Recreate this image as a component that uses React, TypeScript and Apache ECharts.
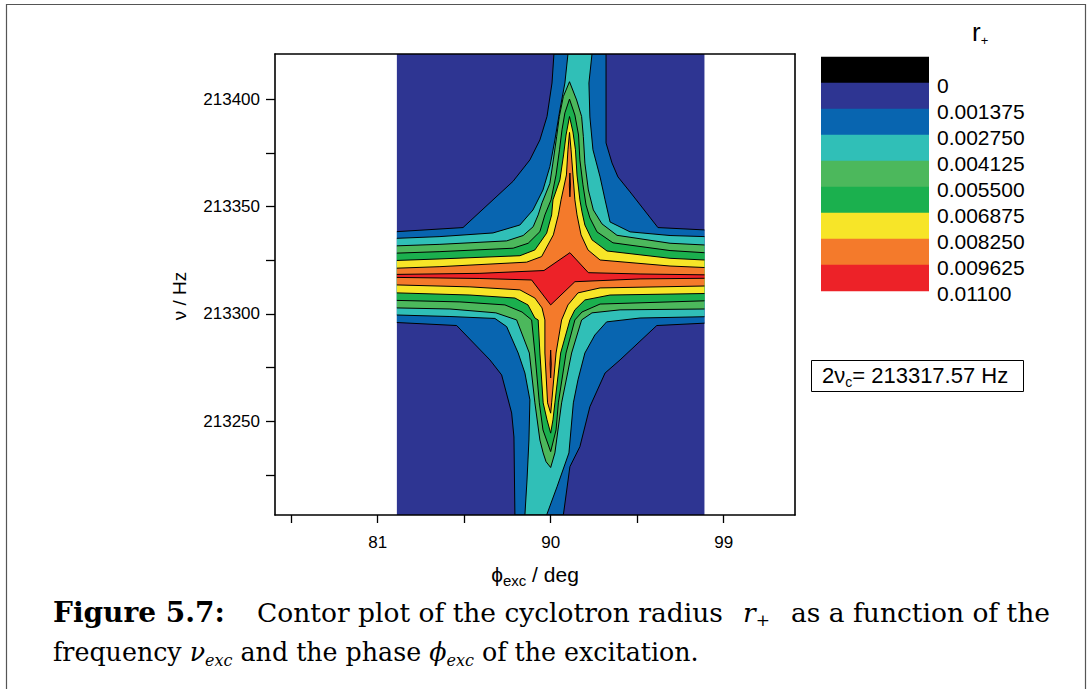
import React, { useEffect, useRef } from "react";
import * as echarts from "echarts";

type P = [number, number];

// Legend levels (r+) and fill colours (below 0, 0..., ..., above 0.009625)
const levelLabels = ["0", "0.001375", "0.002750", "0.004125", "0.005500", "0.006875", "0.008250", "0.009625", "0.01100"];
const levelColors = ["#000000", "#2e3592", "#0865b0", "#30bfb7", "#4cb85c", "#1bb04e", "#f7e528", "#f47a2b", "#ed2228"];

// Axes
const phiMin = 75.66;
const phiMax = 102.71;
const nuMin = 213206.4;
const nuMax = 213421.0;
const xTickValues = [76.5, 81, 85.5, 90, 94.5, 99];
const xLabelValues = [81, 90, 99];
const yTickValues = [213225, 213250, 213275, 213300, 213325, 213350, 213375, 213400];
const yLabelValues = [213250, 213300, 213350, 213400];

// Data domain
const dataRect: P[] = [[82, nuMin], [98, nuMin], [98, nuMax], [82, nuMax]];

// Contour boundaries [phi (deg), nu (Hz)]: upper = left edge -> right edge, lower = right edge -> left edge
const c1Upper: P[] = [[82, 213338.3], [85.44, 213340.2], [88.04, 213361.7], [88.92, 213371.7], [89.44, 213381.0], [89.81, 213391.9], [90.07, 213407.5], [90.17, 213421.0], [92.88, 213421.0], [92.88, 213379.6], [93.19, 213370.3], [93.5, 213363.8], [94.13, 213356.8], [95.58, 213340.2], [98, 213339.1]];
const c1Lower: P[] = [[98, 213295.7], [95.52, 213294.6], [93.61, 213278.6], [92.83, 213272.5], [92.04, 213256.8], [91.52, 213238.2], [91.0, 213228.9], [90.66, 213206.4], [88.14, 213206.4], [88.09, 213242.7], [87.97, 213253.9], [87.45, 213271.6], [86.84, 213278.6], [85.11, 213294.6], [82, 213296.0]];

const c2Upper: P[] = [[82, 213335.2], [84.24, 213336.0], [87.0, 213337.7], [88.4, 213341.4], [89.08, 213348.4], [89.6, 213357.7], [89.96, 213368.6], [90.22, 213381.0], [90.48, 213395.0], [90.74, 213407.5], [90.9, 213421.0], [92.15, 213421.0], [91.99, 213407.5], [92.04, 213391.7], [92.2, 213376.4], [92.57, 213363.8], [92.83, 213353.1], [93.09, 213342.8], [94.13, 213338.2], [96.21, 213336.5], [98, 213336.0]];
const c2Lower: P[] = [[98, 213298.7], [94.65, 213298.1], [92.91, 213296.3], [92.3, 213290.2], [91.78, 213281.8], [91.42, 213269.3], [91.18, 213258.6], [90.95, 213235.3], [90.33, 213219.5], [89.79, 213206.4], [88.66, 213206.4], [88.77, 213222.7], [88.87, 213241.3], [88.92, 213260.0], [88.66, 213272.5], [88.31, 213281.8], [87.71, 213294.1], [87.1, 213297.9], [84.76, 213298.8], [82, 213299.5]];

const c3Upper: P[] = [[82, 213331.7], [84.24, 213332.4], [87.71, 213334.0], [88.57, 213336.5], [89.09, 213340.6], [89.35, 213346.1], [89.55, 213351.7], [89.96, 213360.8], [90.14, 213371.7], [90.31, 213382.5], [90.45, 213391.9], [90.66, 213401.2], [90.98, 213408.1], [91.35, 213399.6], [91.61, 213391.9], [91.7, 213382.5], [91.78, 213370.2], [91.96, 213357.7], [92.22, 213348.4], [92.67, 213341.9], [93.45, 213336.6], [96.21, 213332.9], [98, 213332.1]];
const c3Lower: P[] = [[98, 213302.3], [93.61, 213301.9], [92.15, 213300.5], [91.61, 213297.2], [91.09, 213281.8], [90.57, 213258.6], [90.22, 213235.3], [90.0, 213228.5], [89.76, 213231.2], [89.61, 213235.3], [89.44, 213241.3], [89.18, 213258.6], [88.89, 213281.8], [88.23, 213297.2], [87.15, 213300.5], [84.76, 213302.3], [82, 213302.8]];

const c4Upper: P[] = [[82, 213328.3], [84.24, 213329.0], [88.05, 213330.6], [88.83, 213332.9], [89.44, 213338.3], [89.7, 213346.1], [90.02, 213353.1], [90.28, 213364.7], [90.46, 213376.4], [90.59, 213385.7], [90.74, 213393.6], [90.98, 213400.0], [91.26, 213392.6], [91.45, 213383.3], [91.52, 213371.7], [91.68, 213360.1], [91.84, 213350.7], [92.04, 213344.7], [92.41, 213338.2], [93.24, 213333.1], [96.21, 213329.5], [98, 213328.5]];
const c4Lower: P[] = [[98, 213306.1], [92.57, 213304.6], [91.63, 213300.9], [91.26, 213297.2], [90.8, 213281.8], [90.4, 213258.6], [90.28, 213246.0], [90.0, 213235.9], [89.6, 213246.0], [89.41, 213258.6], [89.18, 213281.8], [89.01, 213297.2], [88.51, 213300.9], [87.62, 213304.2], [85.28, 213305.6], [82, 213306.3]];

const c5Upper: P[] = [[82, 213324.9], [84.24, 213325.6], [88.4, 213327.1], [89.18, 213329.8], [89.79, 213337.6], [90.05, 213346.1], [90.12, 213353.1], [90.48, 213362.4], [90.67, 213374.0], [90.8, 213383.3], [90.98, 213391.9], [91.16, 213384.7], [91.29, 213376.4], [91.37, 213364.7], [91.52, 213353.1], [91.63, 213347.5], [91.78, 213341.4], [92.15, 213334.5], [92.93, 213329.3], [96.21, 213325.9], [98, 213325.1]];
const c5Lower: P[] = [[98, 213309.5], [93.09, 213308.8], [91.78, 213306.5], [91.26, 213301.9], [91.0, 213297.2], [90.52, 213281.8], [90.22, 213258.6], [90.12, 213250.7], [90.0, 213244.5], [89.81, 213250.7], [89.61, 213258.6], [89.44, 213281.8], [89.35, 213297.2], [89.18, 213298.1], [88.82, 213304.2], [88.14, 213307.4], [85.8, 213308.8], [82, 213309.8]];

const c6Upper: P[] = [[82, 213321.3], [84.24, 213322.0], [88.75, 213324.1], [89.53, 213326.7], [90.14, 213336.8], [90.4, 213346.1], [90.54, 213353.1], [90.82, 213364.7], [90.9, 213376.4], [90.98, 213384.5], [91.06, 213376.4], [91.16, 213364.7], [91.26, 213353.1], [91.37, 213346.1], [91.58, 213336.8], [91.94, 213329.8], [92.57, 213325.1], [96.21, 213322.3], [98, 213321.6]];
const c6Lower: P[] = [[98, 213313.0], [92.57, 213312.1], [91.42, 213309.8], [90.9, 213304.2], [90.57, 213297.2], [90.28, 213281.8], [90.05, 213258.6], [90.0, 213253.8], [89.84, 213258.6], [89.7, 213281.8], [89.7, 213297.2], [89.55, 213302.8], [89.18, 213307.4], [88.4, 213311.2], [85.8, 213312.6], [82, 213313.5]];

const c7Upper: P[] = [[82, 213318.4], [86.32, 213318.9], [89.65, 213320.2], [91.0, 213328.5], [91.96, 213319.2], [94.65, 213318.6], [98, 213318.2]];
const c7Lower: P[] = [[98, 213316.6], [94.65, 213316.3], [91.26, 213315.0], [90.0, 213304.2], [89.01, 213315.8], [86.32, 213316.5], [82, 213317.0]];

const islandTop: P[] = [[91.0, 213365.6], [91.03, 213360.0], [91.0, 213354.5], [90.97, 213360.0]];
const islandBottom: P[] = [[90.0, 213283.2], [90.03, 213276.7], [90.0, 213270.2], [89.97, 213276.7]];

type Region = { color: string; upper: P[]; lower: P[]; stroke: boolean; closed?: boolean };
const regions: Region[] = [
  { color: levelColors[1], upper: dataRect, lower: [], stroke: false },
  { color: levelColors[2], upper: c1Upper, lower: c1Lower, stroke: true },
  { color: levelColors[3], upper: c2Upper, lower: c2Lower, stroke: true },
  { color: levelColors[4], upper: c3Upper, lower: c3Lower, stroke: true },
  { color: levelColors[5], upper: c4Upper, lower: c4Lower, stroke: true },
  { color: levelColors[6], upper: c5Upper, lower: c5Lower, stroke: true },
  { color: levelColors[7], upper: c6Upper, lower: c6Lower, stroke: true },
  { color: levelColors[8], upper: c7Upper, lower: c7Lower, stroke: true },
  { color: levelColors[8], upper: islandTop, lower: [], stroke: true, closed: true },
  { color: levelColors[8], upper: islandBottom, lower: [], stroke: true, closed: true },
];

const SANS = "'Liberation Sans', Arial, Helvetica, sans-serif";
const SERIF = "'DejaVu Serif', serif";

function buildOption(): any {
  const legendX = 821;
  const legendTop = 56.7;
  const boxH = 26;
  const legendGraphics: any[] = [];
  levelColors.forEach((c, i) => {
    legendGraphics.push({
      type: "rect",
      shape: { x: legendX, y: legendTop + boxH * i, width: 108, height: boxH + 0.5 },
      style: { fill: c },
    });
  });
  levelLabels.forEach((t, i) => {
    legendGraphics.push({
      type: "text",
      x: 937,
      y: legendTop + boxH * (i + 1) + 3,
      style: { text: t, font: `21px ${SANS}`, fill: "#000", verticalAlign: "middle", align: "left" },
    });
  });

  const subRich = (size: number) => ({
    fontSize: size,
    fontFamily: SANS,
    color: "#000",
    verticalAlign: "bottom",
    lineHeight: size,
  });
  const makeSerifRich = (size: number, sub: number) => ({
    a: { fontSize: size, fontFamily: SERIF, color: "#000", lineHeight: 32 },
    i: { fontSize: size, fontFamily: SERIF, fontStyle: "italic", color: "#000", lineHeight: 32 },
    s: { fontSize: sub, fontFamily: SERIF, fontStyle: "italic", color: "#000", verticalAlign: "bottom", lineHeight: 18 },
    p: { fontSize: sub, fontFamily: SERIF, color: "#000", verticalAlign: "bottom", lineHeight: 18 },
  });
  const rich1 = makeSerifRich(26.5, 17);
  const rich2 = makeSerifRich(25.3, 16);
  const capText = (x: number, y: number, text: string, rich: any, align = "left") => ({
    type: "text",
    x,
    y,
    style: { text, align, verticalAlign: "middle", rich },
  });

  const graphics: any[] = [
    ...legendGraphics,
    // r+ title
    {
      type: "text",
      x: 972,
      y: 32,
      style: {
        text: "{a|r}{s|+}",
        verticalAlign: "middle",
        rich: {
          a: { fontSize: 26, fontFamily: SANS, color: "#000", lineHeight: 30 },
          s: subRich(13),
        },
      },
    },
    // annotation box
    {
      type: "rect",
      shape: { x: 811.5, y: 360.5, width: 212, height: 31 },
      style: { fill: "#fff", stroke: "#000", lineWidth: 1 },
    },
    {
      type: "text",
      x: 822,
      y: 375,
      style: {
        text: "{a|2ν}{s|c}{a|= 213317.57 Hz}",
        verticalAlign: "middle",
        rich: {
          a: { fontSize: 22, fontFamily: SANS, color: "#000", lineHeight: 28 },
          s: subRich(14),
        },
      },
    },
    // y axis name
    {
      type: "text",
      x: 179,
      y: 296,
      rotation: Math.PI / 2,
      style: {
        text: "ν / Hz",
        font: `19px ${SANS}`,
        fill: "#000",
        align: "center",
        verticalAlign: "middle",
      },
    },
    // page frame
    {
      type: "polyline",
      shape: { points: [[6.5, 689], [6.5, 4.5], [1085.5, 4.5], [1085.5, 689]] },
      style: { stroke: "#555", lineWidth: 1.2, fill: "none" },
    },
    // caption
    {
      type: "text",
      x: 53,
      y: 612,
      style: { text: "Figure 5.7:", font: `bold 28px ${SERIF}`, fill: "#000", verticalAlign: "middle" },
    },
    capText(257, 612, "{a|Contor plot of the cyclotron radius}", rich1),
    capText(743, 612, "{i|r}{p|+}", rich1),
    capText(1050, 612, "{a|as a function of the}", rich1, "right"),
    capText(53, 652, "{a|frequency }{i|ν}{s|exc}{a| and the phase }{i|ϕ}{s|exc}{a| of the excitation.}", rich2),
  ];

  const axisLine = { show: true, onZero: false, lineStyle: { color: "#000", width: 1.6 } };

  return {
    animation: false,
    backgroundColor: "#fff",
    textStyle: { fontFamily: SANS },
    grid: { left: 275, right: 294, top: 54, bottom: 174, containLabel: false, outerBoundsMode: "none" },
    xAxis: [
      {
        type: "value",
        min: phiMin,
        max: phiMax,
        position: "bottom",
        z: 10,
        axisLine,
        axisTick: { show: true, inside: false, length: 8, customValues: xTickValues, lineStyle: { color: "#000", width: 1.3 } },
        axisLabel: {
          show: true,
          customValues: xLabelValues,
          margin: 19,
          color: "#000",
          fontSize: 17,
          fontFamily: SANS,
          formatter: (v: number) => String(v),
        },
        splitLine: { show: false },
        name: "{a|ϕ}{s|exc}{a| / deg}",
        nameLocation: "middle",
        nameGap: 46,
        nameTextStyle: {
          rich: {
            a: { fontSize: 21, fontFamily: SANS, color: "#000", lineHeight: 27 },
            s: subRich(15),
          },
        },
      },
      {
        type: "value",
        min: phiMin,
        max: phiMax,
        position: "top",
        z: 10,
        axisLine,
        axisTick: { show: false },
        axisLabel: { show: false },
        splitLine: { show: false },
      },
    ],
    yAxis: [
      {
        type: "value",
        min: nuMin,
        max: nuMax,
        position: "left",
        z: 10,
        axisLine,
        axisTick: { show: true, inside: false, length: 9, customValues: yTickValues, lineStyle: { color: "#000", width: 1.3 } },
        axisLabel: {
          show: true,
          customValues: yLabelValues,
          margin: 15,
          color: "#000",
          fontSize: 17,
          fontFamily: SANS,
          formatter: (v: number) => String(v),
        },
        splitLine: { show: false },
      },
      {
        type: "value",
        min: nuMin,
        max: nuMax,
        position: "right",
        z: 10,
        axisLine,
        axisTick: { show: false },
        axisLabel: { show: false },
        splitLine: { show: false },
      },
    ],
    series: [
      {
        type: "custom",
        xAxisIndex: 0,
        yAxisIndex: 0,
        clip: true,
        silent: true,
        encode: { x: 0, y: 1 },
        data: regions.map((_, i) => [90, 213300, i]),
        renderItem: (params: any, api: any) => {
          const r = regions[params.dataIndex];
          const px = (pts: P[]) => pts.map((p) => api.coord(p));
          const children: any[] = [
            {
              type: "polygon",
              shape: { points: px(r.upper.concat(r.lower)) },
              style: { fill: r.color, stroke: r.closed ? "#000" : null, lineWidth: r.closed ? 1 : 0 },
            },
          ];
          if (r.stroke && !r.closed) {
            children.push({
              type: "polyline",
              shape: { points: px(r.upper) },
              style: { fill: null, stroke: "#000", lineWidth: 1 },
            });
            children.push({
              type: "polyline",
              shape: { points: px(r.lower) },
              style: { fill: null, stroke: "#000", lineWidth: 1 },
            });
          }
          return { type: "group", children };
        },
      },
    ],
    graphic: graphics,
  };
}

export default function App() {
  const ref = useRef<HTMLDivElement>(null);
  useEffect(() => {
    if (!ref.current) return;
    const chart = echarts.init(ref.current, null, { renderer: "svg" });
    chart.setOption(buildOption());
    return () => chart.dispose();
  }, []);
  return (
    <div
      ref={ref}
      style={{ position: "absolute", left: 0, top: 0, width: 1089, height: 689, background: "#fff" }}
    />
  );
}
